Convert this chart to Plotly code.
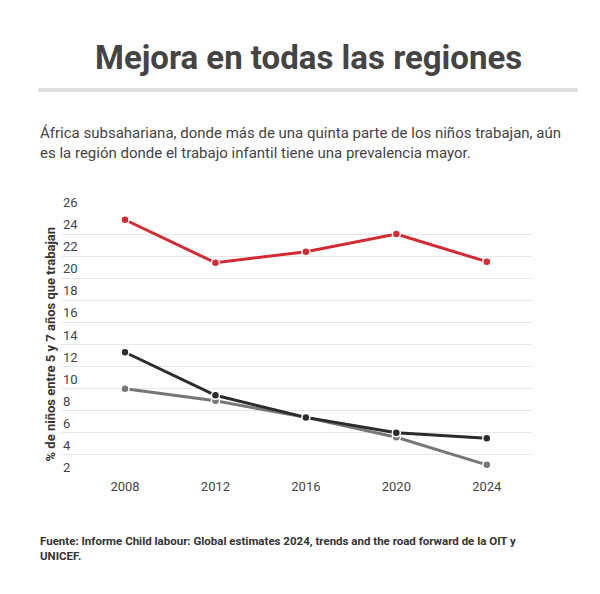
import plotly.graph_objects as go

years = [2008, 2012, 2016, 2020, 2024]
africa = [25.3, 21.4, 22.4, 24.0, 21.5]
black_series = [13.3, 9.4, 7.4, 6.0, 5.5]
gray_series = [10.0, 8.9, 7.4, 5.6, 3.1]
yticks = list(range(2, 27, 2))

fig = go.Figure()
for vals, col in [(gray_series, "#777777"), (black_series, "#2b2b2b"), (africa, "#d42a32")]:
    fig.add_trace(go.Scatter(x=years, y=vals, mode="lines+markers",
                             line=dict(color=col, width=3),
                             marker=dict(size=8, color=col, line=dict(color="white", width=1.5)),
                             showlegend=False, hoverinfo="skip", cliponaxis=False))

H = 265.0  # plot height in px
def py(pix):
    return (469 - pix) / H

fig.update_layout(
    width=600, height=594, paper_bgcolor="white", plot_bgcolor="white",
    margin=dict(l=53, r=76, t=204, b=125, autoexpand=False),
    font=dict(family="Roboto", color="#444444"),
    xaxis=dict(range=[2005.17, 2026.0], tickvals=years, showgrid=False, zeroline=False,
               tickfont=dict(size=13, color="#444444"), ticks="", automargin=False),
    yaxis=dict(range=[2, 26], tickvals=yticks, showgrid=True, gridcolor="#e6e6e6",
               zeroline=False, showticklabels=False, automargin=False),
)
for t in yticks:
    fig.add_annotation(x=0, y=t, xref="paper", yref="y", text=str(t), showarrow=False,
                       xanchor="left", yanchor="bottom", yshift=0,
                       font=dict(size=13, color="#444444"))
fig.add_annotation(x=-11/471, y=0.5, xref="paper", yref="paper", textangle=-90,
                   text="<b>% de niños entre 5 y 7 años que trabajan</b>", showarrow=False,
                   xanchor="center", yanchor="middle", font=dict(size=13, color="#333333"))
fig.add_annotation(x=0.5 - 0.5*(53-76)/471*0 + (300-53-235.5)/471, y=py(50), xref="paper", yref="paper",
                   text="<b>Mejora en todas las regiones</b>", xanchor="center", yanchor="middle",
                   showarrow=False, font=dict(size=33, color="#444444"))
fig.add_shape(type="line", xref="paper", yref="paper", x0=-23/471, x1=517/471,
              y0=py(82), y1=py(82), line=dict(color="#e0e0e0", width=4))
fig.add_annotation(x=-23/471, y=py(135), xref="paper", yref="paper", xanchor="left", yanchor="middle",
                   align="left", showarrow=False,
                   text="África subsahariana, donde más de una quinta parte de los niños trabajan, aún<br>es la región donde el trabajo infantil tiene una prevalencia mayor.",
                   font=dict(size=15, color="#444444"))
fig.add_annotation(x=-23/471, y=py(540), xref="paper", yref="paper", xanchor="left", yanchor="middle",
                   align="left", showarrow=False,
                   text="<b>Fuente: Informe Child labour: Global estimates 2024, trends and the road forward de la OIT y<br>UNICEF.</b>",
                   font=dict(size=11.5, color="#333333"))
fig.write_html("out.html")
